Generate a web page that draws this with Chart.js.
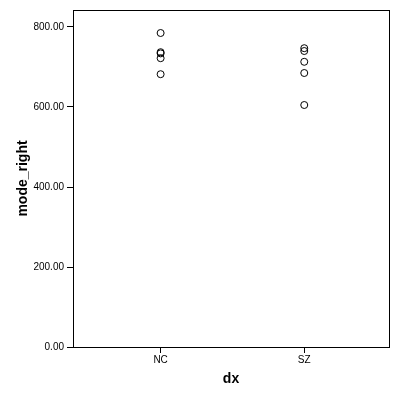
<!DOCTYPE html>
<html>
<head>
<meta charset="utf-8">
<script src="https://cdn.jsdelivr.net/npm/chart.js@4/dist/chart.umd.min.js"></script>
<style>
  html, body { margin: 0; padding: 0; background: #fff; }
  #c { display: block; }
</style>
</head>
<body>
<canvas id="c" width="400" height="400"></canvas>
<script>
// data
var categories = ['NC', 'SZ'];
var ncValues = [785, 737, 734, 722, 682];
var szValues = [747, 740, 713, 685, 605];
var yTicks = [0, 200, 400, 600, 800];

function toPoints(values, idx) {
    return values.map(function (v) { return { x: idx + 1, y: v }; });
}

var allPoints = toPoints(ncValues, 0).concat(toPoints(szValues, 1));

// frame round the plot area
var framePlugin = {
    id: 'frame',
    afterDraw: function (chart) {
        var a = chart.chartArea;
        var ctx = chart.ctx;
        ctx.save();
        ctx.strokeStyle = '#000';
        ctx.lineWidth = 1;
        ctx.strokeRect(Math.round(a.left) + 0.5, Math.round(a.top) + 0.5,
            Math.round(a.right - a.left), Math.round(a.bottom - a.top));
        ctx.restore();
    }
};

new Chart(document.getElementById('c').getContext('2d'), {
    type: 'scatter',
    data: {
        datasets: [{
            data: allPoints,
            pointStyle: 'circle',
            pointRadius: 3.5,
            pointBorderWidth: 1,
            pointBorderColor: '#000',
            pointBackgroundColor: 'rgba(0,0,0,0)'
        }]
    },
    options: {
        responsive: false,
        animation: false,
        layout: { padding: { top: 10, right: 11, left: 0, bottom: 0 } },
        plugins: {
            legend: { display: false },
            tooltip: { enabled: false }
        },
        scales: {
            x: {
                type: 'linear',
                min: 0.39,
                max: 2.59,
                afterBuildTicks: function (axis) {
                    axis.ticks = categories.map(function (c, i) { return { value: i + 1 }; });
                },
                afterFit: function (axis) { axis.height = 53; },
                ticks: {
                    color: '#000',
                    font: { family: 'Liberation Sans, Arial', size: 10 },
                    padding: 1,
                    maxRotation: 0,
                    callback: function (v) { return categories[v - 1]; }
                },
                grid: { drawOnChartArea: false, tickLength: 6, color: '#000' },
                border: { color: '#000' },
                title: {
                    display: true,
                    text: 'dx',
                    color: '#000',
                    font: { family: 'Liberation Sans, Arial', size: 14, weight: 'bold' },
                    padding: { top: 0, bottom: 12 }
                }
            },
            y: {
                min: 0,
                max: 842.5,
                afterBuildTicks: function (axis) {
                    axis.ticks = yTicks.map(function (v) { return { value: v }; });
                },
                afterFit: function (axis) { axis.width = 73; },
                ticks: {
                    color: '#000',
                    font: { family: 'Liberation Sans, Arial', size: 10 },
                    padding: 3,
                    callback: function (v) { return v.toFixed(2); }
                },
                grid: { drawOnChartArea: false, tickLength: 6, color: '#000' },
                border: { color: '#000' },
                title: {
                    display: true,
                    text: 'mode_right',
                    color: '#000',
                    font: { family: 'Liberation Sans, Arial', size: 14, weight: 'bold' },
                    padding: { top: 15, bottom: 0 }
                }
            }
        }
    },
    plugins: [framePlugin]
});
</script>
</body>
</html>
